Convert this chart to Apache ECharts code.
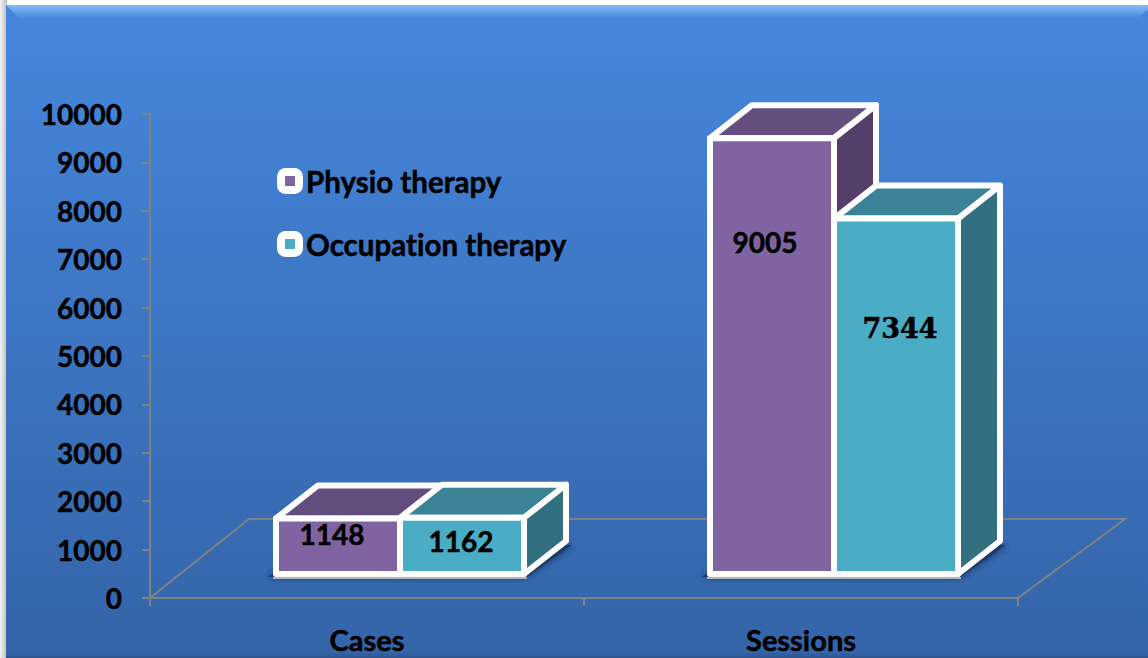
<!DOCTYPE html>
<html>
<head>
    <meta charset="utf-8">
    <title>Physio and occupation therapy</title>
    <script src="https://cdn.jsdelivr.net/npm/echarts@6/dist/echarts.min.js"></script>
    <style>
        html, body { margin: 0; padding: 0; background: #fff; }
        /* no ti ligature, and a bit heavier like the original */
        #main text { font-variant-ligatures: none; stroke: #000; stroke-width: 0.5px; }
    </style>
</head>
<body>
    <div id="main" style="width: 1148px;height:658px;"></div>
    <script type="text/javascript">
        var categories = ['Cases', 'Sessions'];
        var physio = [1148, 9005];
        var occupation = [1162, 7344];
        var yTicks = [0, 1000, 2000, 3000, 4000, 5000, 6000, 7000, 8000, 9000, 10000];

        // label nudges [right, up] in px from the middle of each front face
        var physioNudge = [[-6, 12], [-7, 114]];
        var occupationNudge = [[-1, 5], [4, 68]];

        var FONT = 'Lato';
        var DEPTH_X = 42, DEPTH_Y = 33, LIFT = 24, BAR_W = 124, SHIFT = 33;

        function box(side, front, topCol, sideCol, nudge, labelFont) {
            return function (params, api) {
                var i = api.value(0);
                var v = api.value(1);
                var c = api.coord([i, v]);
                var zero = api.coord([i, 0]);
                var x = c[0] + SHIFT + (side === 0 ? -BAR_W : 0);
                var yTop = c[1] - LIFT;
                var yBase = zero[1] - LIFT;
                var line = { stroke: '#fff', lineWidth: 6, lineJoin: 'round' };
                function poly(pts, fill) {
                    return {
                        type: 'polygon',
                        shape: { points: pts },
                        style: Object.assign({ fill: fill }, line)
                    };
                }
                return {
                    type: 'group',
                    children: [
                        poly([[x, yTop], [x + DEPTH_X, yTop - DEPTH_Y], [x + BAR_W + DEPTH_X, yTop - DEPTH_Y], [x + BAR_W, yTop]], topCol),
                        poly([[x + BAR_W, yTop], [x + BAR_W + DEPTH_X, yTop - DEPTH_Y], [x + BAR_W + DEPTH_X, yBase - DEPTH_Y], [x + BAR_W, yBase]], sideCol),
                        {
                            type: 'line',
                            shape: { x1: x - 3, y1: yBase + 4, x2: x + BAR_W + 3, y2: yBase + 4 },
                            style: { stroke: '#b4b6b9', lineWidth: 2 }
                        },
                        {
                            type: 'rect',
                            shape: { x: x, y: yTop, width: BAR_W, height: yBase - yTop },
                            style: Object.assign({ fill: front }, line)
                        },
                        {
                            type: 'text',
                            style: {
                                x: x + BAR_W / 2 + nudge[i][0],
                                y: (yTop + yBase) / 2 - nudge[i][1],
                                text: String(v),
                                fill: '#000',
                                font: labelFont[i],
                                align: 'center',
                                verticalAlign: 'middle'
                            }
                        }
                    ]
                };
            };
        }

        // soft shadow on the floor below each pair of bars
        function barShadow(params, api) {
            var z = api.coord([api.value(0), 0]);
            var x = z[0] + SHIFT - BAR_W;
            var y = z[1] - LIFT;
            return {
                type: 'polygon',
                shape: { points: [[x - 8, y + 3], [x + 2 * BAR_W + 2, y + 3], [x + 2 * BAR_W + DEPTH_X + 6, y - DEPTH_Y + 4], [x + DEPTH_X, y - DEPTH_Y + 4]] },
                style: { fill: '#1f3a66', shadowBlur: 7, shadowColor: 'rgba(15,30,60,0.85)' }
            };
        }

        // floor of the 3d box, taken from the grid rectangle
        function floor(params, api) {
            var a = api.coord([0, 0]);
            var r = params.coordSys;
            var x0 = r.x, x1 = r.x + r.width, y = a[1];
            return {
                type: 'polyline',
                shape: { points: [[x0, y], [x0 + 99, y - 79], [x1 + 107, y - 79], [x1, y]] },
                style: { fill: null, stroke: '#7f8285', lineWidth: 2 }
            };
        }

        var myChart = echarts.init(document.getElementById('main'), null, { renderer: 'svg' });
        myChart.setOption({
            backgroundColor: '#fff',
            animation: false,
            textStyle: { fontFamily: FONT },
            graphic: [
                {
                    type: 'rect', z: -12, silent: true,
                    shape: { x: 0, y: 0, width: 7, height: 658 },
                    style: {
                        fill: new echarts.graphic.LinearGradient(0, 0, 1, 0, [
                            { offset: 0, color: '#f4f4f4' },
                            { offset: 1, color: '#b9bcc0' }
                        ])
                    }
                },
                {
                    type: 'rect', z: -10, silent: true,
                    shape: { x: 6, y: 5, width: 1142, height: 653 },
                    style: {
                        fill: new echarts.graphic.LinearGradient(0, 0, 0, 1, [
                            { offset: 0, color: '#4587dd' },
                            { offset: 1, color: '#3464a8' }
                        ])
                    }
                },
                {
                    type: 'polygon', z: -9, silent: true,
                    shape: { points: [[6, 5], [1148, 5], [1148, 10], [1136, 18], [19, 18]] },
                    style: {
                        fill: new echarts.graphic.LinearGradient(0, 0, 0, 1, [
                            { offset: 0, color: '#86bdf7' },
                            { offset: 1, color: '#4889dd' }
                        ])
                    }
                },
                {
                    type: 'rect', z: -9, silent: true,
                    shape: { x: 6, y: 652, width: 1142, height: 6 },
                    style: {
                        fill: new echarts.graphic.LinearGradient(0, 0, 0, 1, [
                            { offset: 0, color: 'rgba(38,76,132,0)' },
                            { offset: 1, color: 'rgba(38,76,132,0.6)' }
                        ])
                    }
                }
            ],
            legend: {
                orient: 'vertical',
                left: 272,
                top: 161,
                itemWidth: 18,
                itemHeight: 18,
                itemGap: 33,
                icon: 'roundRect',
                data: ['Physio therapy', 'Occupation therapy'],
                itemStyle: { borderColor: '#fff', borderWidth: 8 },
                textStyle: { color: '#000', fontFamily: FONT, fontWeight: 'bold', fontSize: 29.5, padding: [0, 0, 0, 2] }
            },
            grid: { left: 150, right: 130, top: 114, bottom: 60, containLabel: false },
            xAxis: {
                type: 'category',
                data: categories,
                axisLine: { lineStyle: { color: '#7f8285', width: 2 } },
                axisTick: { show: true, length: 8, alignWithLabel: false, lineStyle: { color: '#7f8285', width: 2 } },
                axisLabel: { color: '#000', fontWeight: 'bold', fontSize: 29, fontFamily: FONT, margin: 27 },
                splitLine: { show: false }
            },
            yAxis: {
                type: 'value',
                min: yTicks[0],
                max: yTicks[yTicks.length - 1],
                interval: 1000,
                axisLine: { show: true, lineStyle: { color: '#7f8285', width: 2 } },
                axisTick: { show: true, length: 8, lineStyle: { color: '#7f8285', width: 2 } },
                axisLabel: {
                    color: '#000', fontWeight: 'bold', fontSize: 28, fontFamily: FONT, margin: 28,
                    formatter: function (v) { return String(v); }
                },
                splitLine: { show: false }
            },
            series: [
                {
                    type: 'custom', name: 'floor', z: 1, silent: true,
                    renderItem: floor,
                    data: [[0, 0]],
                    encode: { x: 0, y: 1 }
                },
                {
                    type: 'custom', name: 'shadow', z: 1, silent: true,
                    renderItem: barShadow,
                    data: categories.map(function (c, i) { return [i, 0]; }),
                    encode: { x: 0, y: 1 }
                },
                {
                    type: 'custom', name: 'Physio therapy', z: 2,
                    itemStyle: { color: '#8064a2' },
                    renderItem: box(0, '#8064a2', '#644e7d', '#533f69', physioNudge,
                        ['bold 28px Lato', 'bold 28px Lato']),
                    data: physio.map(function (v, i) { return [i, v]; }),
                    encode: { x: 0, y: 1 }
                },
                {
                    type: 'custom', name: 'Occupation therapy', z: 3,
                    itemStyle: { color: '#4bacc6' },
                    renderItem: box(1, '#4bacc6', '#3a8397', '#326f80', occupationNudge,
                        ['bold 28px Lato', 'bold 27px "DejaVu Serif"']),
                    data: occupation.map(function (v, i) { return [i, v]; }),
                    encode: { x: 0, y: 1 }
                }
            ]
        });
    </script>
</body>
</html>
